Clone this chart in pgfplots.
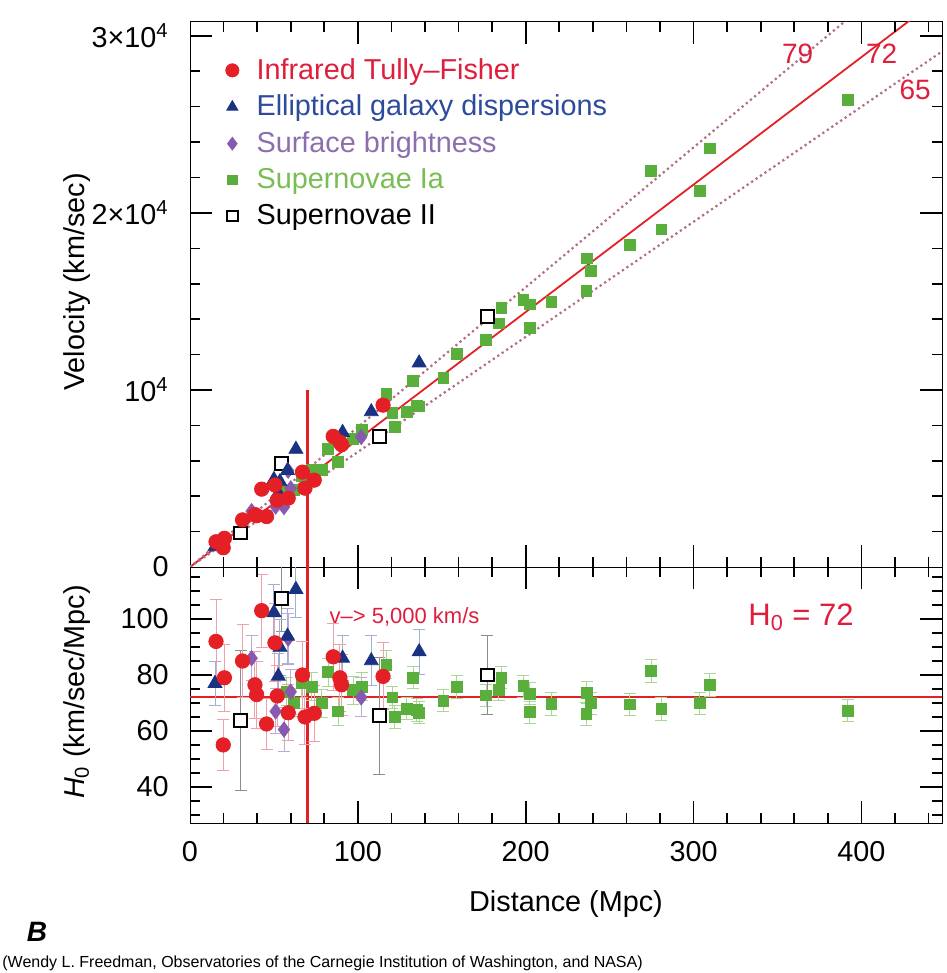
\documentclass[border=0pt]{standalone}
\usepackage{fontspec}
\setmainfont{Liberation Sans}
\usepackage{pgfplots}
\usepackage{pgfplotstable}
\pgfplotsset{compat=1.18}

\definecolor{cRed}{RGB}{228,32,38}
\definecolor{cRedTxt}{RGB}{222,30,60}
\definecolor{cBlue}{RGB}{25,50,130}
\definecolor{cBlueTxt}{RGB}{45,75,155}
\definecolor{cPur}{RGB}{135,90,175}
\definecolor{cPurTxt}{RGB}{140,110,175}
\definecolor{cGrn}{RGB}{90,175,60}
\definecolor{cGrnTxt}{RGB}{120,190,85}
\definecolor{cDot}{RGB}{175,110,130}
\definecolor{cRedErr}{RGB}{240,160,170}
\definecolor{cBlueErr}{RGB}{160,175,210}
\definecolor{cGrnErr}{RGB}{170,215,150}
\definecolor{cBlkErr}{RGB}{140,140,140}
\definecolor{cPurErr}{RGB}{190,170,215}

\newcommand{\ticksize}{\fontsize{14.4bp}{17bp}\selectfont}
\newcommand{\legsize}{\fontsize{14.4bp}{17bp}\selectfont}

% distance (Mpc), H0, error of H0, velocity (km/s)
\pgfplotstableread{
d H e v
15.5 92 15 1426
19.8 55 9 1089
20.5 79 12 1620
31.3 85 13 2661
38.7 76.5 12 2961
39.7 73 12 2898
42.7 103 13 4398
45.6 62.5 9 2850
50.6 91.5 14 4630
52 72.5 11 3770
58.5 66.5 10 3890
67 80 12 5360
68.5 65 10 4453
74 66.3 10 4906
85.3 86.5 12 7378
89.3 79 12 7055
90.3 76.5 11 6908
115 79.5 12 9143
}\tabRed
\pgfplotstableread{
d H e v
14.9 77 8 1147
50 102.3 10 4940
52.6 79.6 8 4187
53.6 89.9 10 4819
58.1 93.9 10 5456
63.1 110.6 10 6650
90.9 86 8 7600
108 85.1 9 8770
136.5 88.3 8 11530
}\tabBlue
\pgfplotstableread{
d H e v
36.7 86 8 3156
51 67 8 3417
56 60.5 8 3388
58.5 93 9 5441
60 74 8 4440
102 72 7 7344
}\tabPur
\pgfplotstableread{
d H e v
57.5 74 5 4255
62 70 5 4340
66.5 77 5 5121
72.4 75.8 5 5488
78.4 69.9 5 5480
82.3 81 5 6666
88.3 67 5 5916
97.2 74.6 5 7251
102.2 75.8 5 7747
117 83.6 5 9781
120.6 72 4 8683
122 65 4 7930
129 68 4 8772
133 79 4 10507
135 67.5 4 9113
136.5 66.5 4 9077
151 70.8 4 10691
159 75.7 4 12036
176.4 72.7 4 12824
185.5 79 4 14655
184 74.8 4 13763
198.6 76 4 15094
202.4 73.3 4 14836
202.4 66.7 4 13500
215.3 69.6 4 14985
236.5 73.7 4 17430
239 69.9 4 16706
236.1 66.1 4 15606
261.9 69.5 4 18202
274.8 81.4 4 22369
280.8 67.9 4 19066
303.6 69.9 4 21222
309.5 76.4 4 23646
391.9 67.3 4 26375
}\tabGrn
\pgfplotstableread{
d H e v
30.2 63.7 25 1924
54.6 107.4 12 5864
112.7 65.4 21 7371
177 80 14 14160
}\tabBlk

\pgfplotsset{
  redpts/.style={only marks, mark=*, mark size=3.6bp, mark options={fill=cRed, draw=cRed}},
  bluepts/.style={only marks, mark=triangle*, mark size=4bp, mark options={fill=cBlue, draw=cBlue}},
  purpts/.style={only marks, mark=diamond*, mark size=3.8bp, mark options={fill=cPur, draw=cPur}},
  grnpts/.style={only marks, mark=square*, mark size=2.7bp, mark options={fill=cGrn, draw=cGrn}},
  blkpts/.style={only marks, mark=square*, mark size=3.2bp, mark options={fill=white, draw=black, line width=1bp}},
  errb/.style={error bars/.cd, y dir=both, y explicit,
    error bar style={#1, line width=0.5bp},
    error mark options={rotate=90, mark size=3bp, #1, line width=0.5bp}},
  panelticks/.style={
    major tick length=0pt, minor tick length=0pt,
    tick label style={font=\ticksize},
    /pgf/number format/assume math mode=true,
    yticklabel style={inner sep=0pt, xshift=-10.5bp},
  },
}

\begin{document}
\begin{tikzpicture}

% ---------------- top panel ----------------
\begin{axis}[panelticks,
  scale only axis, width=376bp, height=272.65bp,
  at={(95bp,-283.5bp)}, anchor=south west,
  xmin=0, xmax=448, ymin=0, ymax=30800,
  xtick={0,100,200,300,400},
  xticklabels={},
  ytick={0,10000,20000,30000},
  yticklabels={0,10\textsuperscript{4},2×10\textsuperscript{4},3×10\textsuperscript{4}},
  scaled y ticks=false,
  legend style={at={(0.047,0.94)}, anchor=north west, draw=none, fill=none,
    font=\legsize, row sep=2.8bp, inner sep=0pt, nodes={inner sep=1.8bp}},
  legend cell align=left,
]
\addplot[cRed, line width=0.9bp, forget plot] coordinates {(0,0) (448,32256)};
\addplot[cDot, line width=1.1bp, dash pattern=on 1.1bp off 1.6bp, forget plot] coordinates {(0,0) (448,35392)};
\addplot[cDot, line width=1.1bp, dash pattern=on 1.1bp off 1.6bp, forget plot] coordinates {(0,0) (448,29120)};
\addplot[cRed, line width=1.2bp, forget plot] coordinates {(70,0) (70,10000)};

\addplot[grnpts, forget plot] table[x=d, y=v] {\tabGrn};
\addplot[blkpts, forget plot] table[x=d, y=v] {\tabBlk};
\addplot[purpts, forget plot] table[x=d, y=v] {\tabPur};
\addplot[bluepts, forget plot] table[x=d, y=v] {\tabBlue};
\addplot[redpts, forget plot] table[x=d, y=v] {\tabRed};

% legend entries (drawn outside the visible range)
\addplot[redpts, mark size=3.3bp] coordinates {(-100,-100)};
\addlegendentry{\hspace{7bp}\textcolor{cRedTxt}{Infrared Tully–Fisher}}
\addplot[bluepts, mark size=3.2bp] coordinates {(-100,-100)};
\addlegendentry{\hspace{7bp}\textcolor{cBlueTxt}{Elliptical galaxy dispersions}}
\addplot[purpts, mark size=3.2bp] coordinates {(-100,-100)};
\addlegendentry{\hspace{7bp}\textcolor{cPurTxt}{Surface brightness}}
\addplot[grnpts, mark size=2.4bp] coordinates {(-100,-100)};
\addlegendentry{\hspace{7bp}\textcolor{cGrnTxt}{Supernovae Ia}}
\addplot[blkpts, mark size=2.6bp] coordinates {(-100,-100)};
\addlegendentry{\hspace{7bp}Supernovae II}

\node[text=cRedTxt, font=\fontsize{14bp}{16bp}\selectfont] at (axis cs:362,28977) {79};
\node[text=cRedTxt, font=\fontsize{14bp}{16bp}\selectfont] at (axis cs:412,28977) {72};
\node[text=cRedTxt, font=\fontsize{14bp}{16bp}\selectfont] at (axis cs:432,26930) {65};
\end{axis}

% ---------------- bottom panel ----------------
\begin{axis}[panelticks,
  scale only axis, width=376bp, height=128bp,
  at={(95bp,-283.5bp)}, anchor=north west,
  xmin=0, xmax=448, ymin=27.1, ymax=118.6,
  xtick={0,100,200,300,400},
  ytick={40,60,80,100},
  xticklabel style={inner sep=0pt, yshift=-9bp},
]
\addplot[cRed, line width=0.9bp] coordinates {(0,72) (448,72)};
\addplot[cRed, line width=1.2bp] coordinates {(70,27.1) (70,118.6)};

\addplot[grnpts, errb=cGrnErr] table[x=d, y=H, y error=e] {\tabGrn};
\addplot[blkpts, errb=cBlkErr] table[x=d, y=H, y error=e] {\tabBlk};
\addplot[purpts, errb=cPurErr] table[x=d, y=H, y error=e] {\tabPur};
\addplot[bluepts, errb=cBlueErr] table[x=d, y=H, y error=e] {\tabBlue};
\addplot[redpts, errb=cRedErr] table[x=d, y=H, y error=e] {\tabRed};

\node[anchor=west, text=cRedTxt, font=\fontsize{11bp}{13bp}\selectfont] at (axis cs:79,100.7) {v–> 5,000 km/s};
\node[text=cRedTxt, font=\fontsize{15.5bp}{18bp}\selectfont] at (axis cs:364,100.7) {H\textsubscript{0} = 72};
\end{axis}

% ---------------- tick marks of both panels ----------------
\begin{scope}[black, line width=0.8bp]
% x: minor (every 20 Mpc) and major (every 100 Mpc)
\foreach \d in {20,40,60,80,120,140,160,180,220,240,260,280,320,340,360,380,420,440} {
  \draw ({(95+0.839286*\d)*1bp},-10.85bp) -- ++(0,-5bp);
  \draw ({(95+0.839286*\d)*1bp},-288.5bp) -- ++(0,10bp);
  \draw ({(95+0.839286*\d)*1bp},-411.5bp) -- ++(0,5bp);
}
\foreach \d in {100,200,300,400} {
  \draw ({(95+0.839286*\d)*1bp},-10.85bp) -- ++(0,-11bp);
  \draw ({(95+0.839286*\d)*1bp},-294.5bp) -- ++(0,22bp);
  \draw ({(95+0.839286*\d)*1bp},-411.5bp) -- ++(0,11bp);
}
% top panel y (in thousands of km/s): minor every 2, major every 10
\foreach \v in {2,4,6,8,12,14,16,18,22,24,26,28} {
  \draw (95bp,{(-283.5+8.8523*\v)*1bp}) -- ++(5bp,0);
  \draw (471bp,{(-283.5+8.8523*\v)*1bp}) -- ++(-5bp,0);
}
\foreach \v in {10,20,30} {
  \draw (95bp,{(-283.5+8.8523*\v)*1bp}) -- ++(11bp,0);
  \draw (471bp,{(-283.5+8.8523*\v)*1bp}) -- ++(-11bp,0);
}
% bottom panel y: minor every 5, major every 20
\foreach \h in {30,35,45,50,55,65,70,75,85,90,95,105,110,115} {
  \draw (95bp,{(-283.5-(118.6-\h)*1.39891)*1bp}) -- ++(5bp,0);
  \draw (471bp,{(-283.5-(118.6-\h)*1.39891)*1bp}) -- ++(-5bp,0);
}
\foreach \h in {40,60,80,100} {
  \draw (95bp,{(-283.5-(118.6-\h)*1.39891)*1bp}) -- ++(11bp,0);
  \draw (471bp,{(-283.5-(118.6-\h)*1.39891)*1bp}) -- ++(-11bp,0);
}
\end{scope}

% ---------------- labels ----------------
\node[rotate=90, font=\ticksize] at (38.5bp,-141bp) {Velocity (km/sec)};
\node[rotate=90, font=\ticksize] at (38.5bp,-346bp) {\textit{H}\textsubscript{0} (km/sec/Mpc)};
\node[font=\ticksize] at (283bp,-452bp) {Distance (Mpc)};
\node[font=\fontsize{14bp}{16bp}\selectfont\bfseries\itshape] at (18.5bp,-466bp) {B};
\node[anchor=west, inner sep=0pt, font=\fontsize{8bp}{9bp}\selectfont] at (1bp,-481.5bp)
  {(Wendy L. Freedman, Observatories of the Carnegie Institution of Washington, and NASA)};

\pgfresetboundingbox
\path[use as bounding box] (0,0) rectangle (473.5bp,-486.5bp);
\end{tikzpicture}
\end{document}
